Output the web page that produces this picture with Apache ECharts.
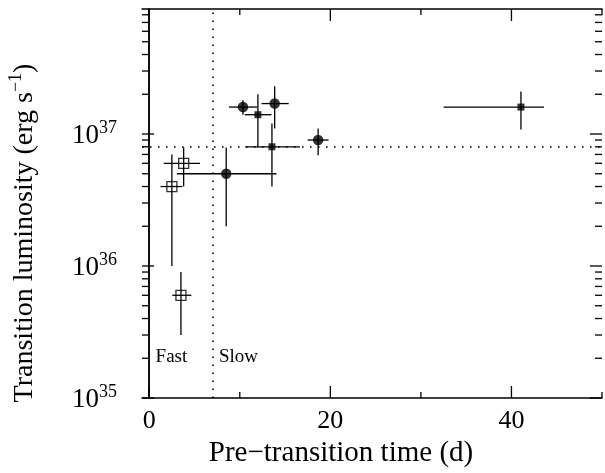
<!DOCTYPE html>
<html><head><meta charset="utf-8">
<script src="https://cdn.jsdelivr.net/npm/echarts@6/dist/echarts.min.js"></script>
<style>html,body{margin:0;padding:0;background:#fff}#c{width:605px;height:473px}</style>
</head><body><div id="c"></div>
<script>
// ---- data (pre-transition time in days, transition luminosity in erg/s) ----
// Fast transitions (open squares)
const fastX   = [3.8, 2.5, 3.5];
const fastY   = [6.0e36, 4.0e36, 6.0e35];
const fastXLo = [1.6, 1.25, 2.55];
const fastXHi = [5.6, 3.65, 4.65];
const fastYLo = [4.0e36, 1.0e36, 3.0e35];
const fastYHi = [7.9e36, 7.0e36, 9.0e35];
// Slow transitions, filled circles
const circX   = [8.5, 10.35, 13.85, 18.65];
const circY   = [5.0e36, 1.6e37, 1.7e37, 9.0e36];
const circXLo = [3.05, 8.8, 12.4, 17.5];
const circXHi = [14.05, 11.9, 15.4, 19.8];
const circYLo = [2.0e36, 1.4e37, 1.1e37, 6.9e36];
const circYHi = [7.9e36, 1.8e37, 2.3e37, 1.1e37];
// Slow transitions, filled squares
const sqX   = [12.0, 13.55, 41.05];
const sqY   = [1.4e37, 8.0e36, 1.6e37];
const sqXLo = [10.55, 10.6, 32.5];
const sqXHi = [13.5, 16.65, 43.6];
const sqYLo = [7.9e36, 4.0e36, 1.08e37];
const sqYHi = [2.0e37, 1.2e37, 2.1e37];
// reference lines
const splitTime = 7;
const splitLum = 8e36;
// annotations
const noteText = ['Fast', 'Slow'];
const noteX = [0.7, 7.7];
const noteY = [2.03e35, 2.03e35];
// axes
const xMin = -0.8, xMax = 50;
const yMin = 1e35, yMax = 8.85e37;
const xMajor = [0, 20, 40];
const xMinor = [10, 30, 50];
const yMajor = [1e35, 1e36, 1e37];
const yMinorMant = [2, 3, 4, 5, 6, 7, 8, 9];
const yDecades = [1e35, 1e36, 1e37];
const xTitle = 'Pre\u2212transition time (d)';
const yTitle = 'Transition luminosity (erg s';

const FONT = '"Liberation Serif", "DejaVu Serif", serif';
const yMinor = [];
yDecades.forEach(d => yMinorMant.forEach(m => { if (m * d < yMax) yMinor.push(m * d); }));

function pairs(xs, ys) { return xs.map((x, i) => [x, ys[i]]); }

function errRender(xs, ys, xlo, xhi, ylo, yhi) {
  return function (params, api) {
    const i = params.dataIndex;
    const l = api.coord([xlo[i], ys[i]]);
    const r = api.coord([xhi[i], ys[i]]);
    const t = api.coord([xs[i], yhi[i]]);
    const b = api.coord([xs[i], ylo[i]]);
    const st = { stroke: '#000', lineWidth: 1.3 };
    return { type: 'group', children: [
      { type: 'line', shape: { x1: l[0], y1: l[1], x2: r[0], y2: r[1] }, style: st },
      { type: 'line', shape: { x1: t[0], y1: t[1], x2: b[0], y2: b[1] }, style: st }
    ]};
  };
}

const xTickList = xMajor.map(v => [v, 1]).concat(xMinor.map(v => [v, 0]));
const yTickList = yMajor.map(v => [v, 1]).concat(yMinor.map(v => [v, 0]));
const tickStyle = { stroke: '#000', lineWidth: 1.3 };

const chart = echarts.init(document.getElementById('c'), null, { renderer: 'canvas' });
chart.setOption({
  animation: false,
  backgroundColor: '#fff',
  grid: { left: 142, top: 9, width: 465, height: 389 },
  xAxis: [{
    type: 'value', min: xMin, max: xMax, position: 'bottom',
    axisLine: { show: true, lineStyle: { color: '#000', width: 1.5 } },
    axisTick: { show: false }, splitLine: { show: false },
    axisLabel: { fontFamily: FONT, fontSize: 26, color: '#000', margin: 10,
      formatter: v => xMajor.indexOf(v) >= 0 ? String(v) : '' }
  }, {
    type: 'value', min: xMin, max: xMax, position: 'top',
    axisLine: { show: true, lineStyle: { color: '#000', width: 1.5 } },
    axisTick: { show: false }, axisLabel: { show: false }, splitLine: { show: false }
  }],
  yAxis: [{
    type: 'log', logBase: 10, min: yMin, max: yMax, position: 'left',
    axisLine: { show: true, lineStyle: { color: '#000', width: 1.5 } },
    axisTick: { show: false }, splitLine: { show: false }, minorTick: { show: false },
    axisLabel: {
      margin: 25, color: '#000',
      formatter: function (v) {
        const e = Math.log10(v);
        if (Math.abs(e - Math.round(e)) > 1e-6) return '';
        return '{b|10}{s|' + Math.round(e) + '}';
      },
      rich: {
        b: { fontFamily: FONT, fontSize: 27, color: '#000', lineHeight: 30, verticalAlign: 'bottom' },
        s: { fontFamily: FONT, fontSize: 18, color: '#000', lineHeight: 20, verticalAlign: 'top' }
      }
    }
  }, {
    type: 'log', logBase: 10, min: yMin, max: yMax, position: 'right',
    axisLine: { show: true, lineStyle: { color: '#000', width: 1.5 } },
    axisTick: { show: false }, axisLabel: { show: false }, splitLine: { show: false }
  }],
  graphic: [
    { type: 'text', x: 341, y: 453,
      style: { text: xTitle, font: '29px ' + FONT, fill: '#000', textAlign: 'center', textVerticalAlign: 'middle' } },
    { type: 'text', x: 23, y: 233, rotation: Math.PI / 2,
      style: {
        text: '{a|' + yTitle + '}{s|\u22121}{a|)}',
        textAlign: 'center', textVerticalAlign: 'middle',
        rich: {
          a: { font: '28px ' + FONT, fill: '#000', lineHeight: 32, verticalAlign: 'bottom' },
          s: { font: '18px ' + FONT, fill: '#000', lineHeight: 22, verticalAlign: 'top' }
        }
      } }
  ],
  series: [
    { type: 'custom', name: 'xticks', clip: false, silent: true, z: 5,
      data: xTickList.map(d => [d[0], yMin, d[1]]),
      renderItem: function (params, api) {
        const d = xTickList[params.dataIndex];
        const len = d[1] ? 12 : 6;
        const pb = api.coord([d[0], yMin]);
        const pt = api.coord([d[0], yMax]);
        return { type: 'group', children: [
          { type: 'line', shape: { x1: pb[0], y1: pb[1], x2: pb[0], y2: pb[1] - len }, style: tickStyle },
          { type: 'line', shape: { x1: pt[0], y1: pt[1], x2: pt[0], y2: pt[1] + len }, style: tickStyle }
        ]};
      } },
    { type: 'custom', name: 'yticks', clip: false, silent: true, z: 5,
      data: yTickList.map(d => [xMin, d[0], d[1]]),
      renderItem: function (params, api) {
        const d = yTickList[params.dataIndex];
        const len = d[1] ? 12 : 7;
        const pl = api.coord([xMin, d[0]]);
        const pr = api.coord([xMax, d[0]]);
        return { type: 'group', children: [
          { type: 'line', shape: { x1: pl[0], y1: pl[1], x2: pl[0] + len, y2: pl[1] }, style: tickStyle },
          { type: 'line', shape: { x1: pr[0], y1: pr[1], x2: pr[0] - len, y2: pr[1] }, style: tickStyle }
        ]};
      } },
    { type: 'custom', name: 'fastErr', clip: false, silent: true, z: 3,
      data: pairs(fastX, fastY), renderItem: errRender(fastX, fastY, fastXLo, fastXHi, fastYLo, fastYHi) },
    { type: 'custom', name: 'circErr', clip: false, silent: true, z: 3,
      data: pairs(circX, circY), renderItem: errRender(circX, circY, circXLo, circXHi, circYLo, circYHi) },
    { type: 'custom', name: 'sqErr', clip: false, silent: true, z: 3,
      data: pairs(sqX, sqY), renderItem: errRender(sqX, sqY, sqXLo, sqXHi, sqYLo, sqYHi) },
    { type: 'scatter', name: 'fast', z: 4, data: pairs(fastX, fastY),
      symbol: 'rect', symbolSize: 10,
      itemStyle: { color: 'rgba(0,0,0,0)', borderColor: '#000', borderWidth: 1.3 },
      markLine: {
        silent: true, symbol: 'none', label: { show: false },
        lineStyle: { color: '#000', width: 1.6, type: [1.6, 6.4] },
        data: [{ xAxis: splitTime }, { yAxis: splitLum }]
      } },
    { type: 'scatter', name: 'circ', z: 4, data: pairs(circX, circY),
      symbol: 'circle', symbolSize: 10.5, itemStyle: { color: '#000' } },
    { type: 'scatter', name: 'sq', z: 4, data: pairs(sqX, sqY),
      symbol: 'rect', symbolSize: 7, itemStyle: { color: '#000' } },
    { type: 'custom', name: 'notes', clip: false, silent: true, z: 6,
      data: pairs(noteX, noteY),
      renderItem: function (params, api) {
        const i = params.dataIndex;
        const p = api.coord([noteX[i], noteY[i]]);
        return { type: 'text', x: p[0], y: p[1],
          style: { text: noteText[i], font: '19px ' + FONT, fill: '#000', textAlign: 'left', textVerticalAlign: 'middle' } };
      } }
  ]
});
</script>
</body></html>
